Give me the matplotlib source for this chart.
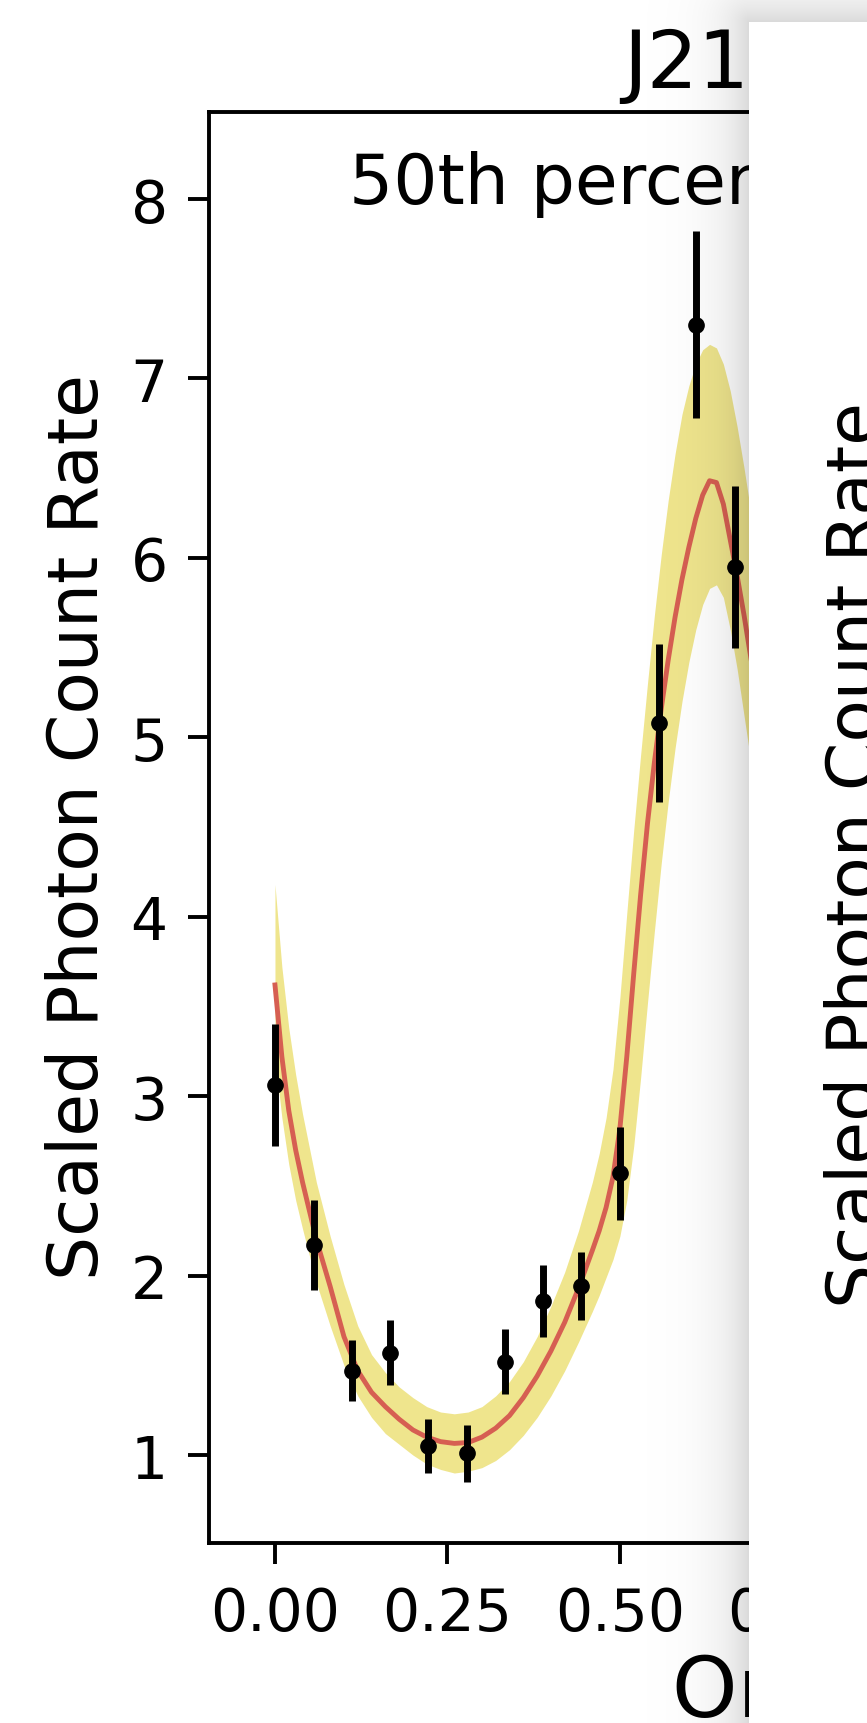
import matplotlib
matplotlib.use("Agg")
import matplotlib.pyplot as plt
import numpy as np
from matplotlib.ticker import MultipleLocator
from matplotlib.patches import Rectangle

# binned light curve: orbital phase, scaled photon count rate and its 1-sigma error
PHASE = [0.000, 0.056, 0.111, 0.167, 0.222, 0.278, 0.333,
         0.389, 0.444, 0.500, 0.556, 0.611, 0.667]
RATE = [3.06, 2.17, 1.47, 1.57, 1.05, 1.01, 1.52,
        1.86, 1.94, 2.57, 5.08, 7.30, 5.95]
RATE_ERR = [0.34, 0.25, 0.17, 0.18, 0.15, 0.16, 0.18,
            0.20, 0.19, 0.26, 0.44, 0.52, 0.45]

# model light curve: median (red) and spread of the posterior draws (yellow)
MODEL_PHASE = [0.00, 0.01, 0.02, 0.03, 0.04, 0.06, 0.08, 0.10, 0.12, 0.14,
               0.16, 0.18, 0.20, 0.22, 0.24, 0.26, 0.28, 0.30, 0.32, 0.34,
               0.36, 0.38, 0.40, 0.42, 0.44, 0.46, 0.47, 0.48, 0.49, 0.50,
               0.51, 0.52, 0.53, 0.54, 0.55, 0.56, 0.57, 0.58, 0.59, 0.60,
               0.61, 0.62, 0.63, 0.64, 0.65, 0.66, 0.67, 0.68, 0.69, 0.70,
               0.72, 0.74]
MODEL_MEDIAN = [3.62, 3.22, 2.92, 2.70, 2.52, 2.20, 1.94, 1.66, 1.47, 1.35,
                1.27, 1.20, 1.14, 1.10, 1.075, 1.065, 1.07, 1.10, 1.15, 1.22,
                1.32, 1.44, 1.58, 1.74, 1.93, 2.14, 2.25, 2.38, 2.55, 2.82,
                3.22, 3.68, 4.12, 4.52, 4.86, 5.16, 5.43, 5.67, 5.88, 6.06,
                6.22, 6.35, 6.43, 6.42, 6.30, 6.10, 5.90, 5.68, 5.44, 5.20,
                4.70, 4.20]
MODEL_HI = [4.18, 3.72, 3.38, 3.12, 2.90, 2.52, 2.22, 1.95, 1.72, 1.56,
            1.46, 1.38, 1.32, 1.27, 1.24, 1.23, 1.24, 1.27, 1.33, 1.41,
            1.52, 1.66, 1.83, 2.02, 2.25, 2.52, 2.68, 2.88, 3.15, 3.55,
            4.02, 4.48, 4.90, 5.30, 5.68, 6.02, 6.32, 6.58, 6.80, 6.96,
            7.08, 7.16, 7.19, 7.17, 7.08, 6.93, 6.73, 6.50, 6.25, 6.00,
            5.45, 4.90]
MODEL_LO = [3.22, 2.88, 2.62, 2.42, 2.26, 1.96, 1.72, 1.50, 1.33, 1.21,
            1.12, 1.06, 1.00, 0.95, 0.92, 0.90, 0.91, 0.93, 0.97, 1.03,
            1.11, 1.21, 1.33, 1.47, 1.63, 1.80, 1.89, 1.99, 2.09, 2.22,
            2.42, 2.72, 3.10, 3.52, 3.92, 4.30, 4.64, 4.94, 5.20, 5.42,
            5.60, 5.74, 5.83, 5.85, 5.78, 5.60, 5.38, 5.12, 4.86, 4.58,
            4.02, 3.48]

W, H = 867, 1724
fig = plt.figure(figsize=(W / 100, H / 100), dpi=100)
ax = fig.add_axes([209.3 / W, 1 - 1544 / H, 790 / W, (1544 - 113) / H])

ax.fill_between(MODEL_PHASE, MODEL_LO, MODEL_HI, color="#efe58d", lw=0, zorder=1)
ax.plot(MODEL_PHASE, MODEL_MEDIAN, color="#d65f52", lw=3.5, zorder=2)
ax.errorbar(PHASE, RATE, yerr=RATE_ERR, fmt="o", color="k", ms=11,
            elinewidth=5, capsize=0, zorder=3)

ax.set_xlim(-0.0952, 1.05)
ax.set_ylim(0.51, 8.485)
ax.xaxis.set_major_locator(MultipleLocator(0.25))
ax.yaxis.set_major_locator(MultipleLocator(1))
ax.tick_params(labelsize=42, length=15, width=2.8, pad=15)
for sp in ax.spines.values():
    sp.set_linewidth(2.8)

ax.set_ylabel("Scaled Photon Count Rate", fontsize=50)
ax.yaxis.set_label_coords((112 - 209.3) / 790, (1544 - 827) / 1431)
ax.text(0.108, 7.98, "50th percentile", fontsize=50, ha="left", va="baseline")

fig.suptitle("J2129-0429", x=623 / W, y=1 - 88 / H, ha="left", va="baseline", fontsize=58)
fig.supxlabel("Orbital Phase", x=672 / W, y=1 - 1717 / H, ha="left", va="baseline", fontsize=60)

# second window lying on top of the figure, with its drop shadow
PX, PY = 749, 23
ov = fig.add_axes([0, 0, 1, 1], zorder=10)
ov.set_axis_off()
yy, xx = np.mgrid[0:H, 0:W] + 0.5
d = np.hypot(np.clip(PX - xx, 0, None), np.clip(PY - yy, 0, None))
shade = np.zeros((H, W, 4))
shade[..., 3] = 0.15 * np.exp(-d / 28)
shade[(xx >= PX) & (yy >= PY), 3] = 0
ov.imshow(shade, extent=(0, W, H, 0), interpolation="nearest", aspect="auto")
ov.add_patch(Rectangle((PX, PY), W - PX, H - PY, facecolor="white", edgecolor="none"))
ov.set_xlim(0, W)
ov.set_ylim(H, 0)
fig.text(824 / W, 1 - 854.5 / H, "Scaled Photon Count Rate", rotation=90,
         ha="left", va="center", fontsize=50, zorder=11)

fig.savefig("out.png", dpi=100)
